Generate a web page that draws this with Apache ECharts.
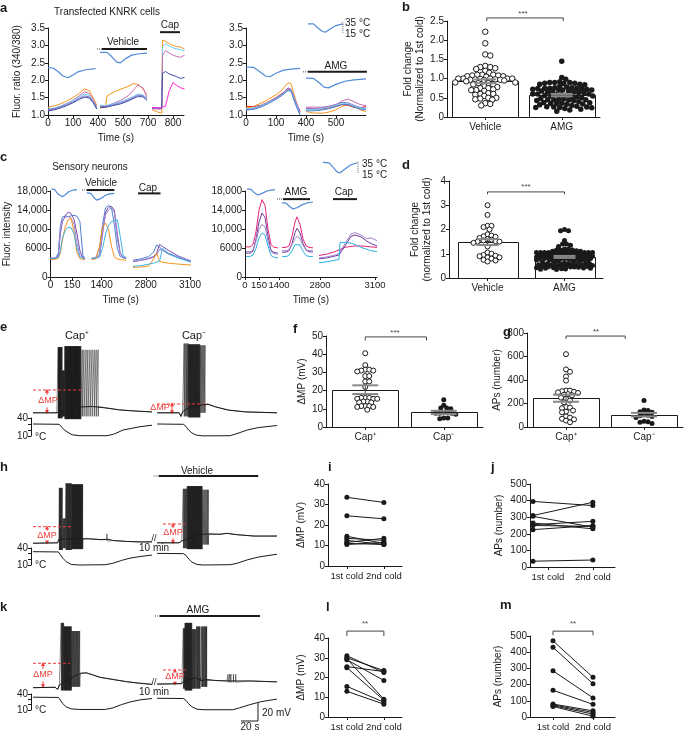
<!DOCTYPE html>
<html lang="en">
<head>
<meta charset="UTF-8">
<title>Cold responses figure</title>
<script src="https://cdn.jsdelivr.net/npm/echarts@6/dist/echarts.min.js"></script>
<style>
  html, body { margin: 0; padding: 0; background: #fff; }
  #chart { width: 685px; height: 732px; }
</style>
</head>
<body>
<div id="chart"></div>
<script>
// ---------- panel a : KNRK cells, fura-2 ratio ----------
var aLeftTickPos = [0, 100, 200, 300, 400, 500];
var aLeftTickLabels = ['0', '100', '400', '500', '700', '800'];
var aRightTickPos = [0, 100, 200, 300];
var aRightTickLabels = ['0', '100', '400', '500'];

var aL1x = [0, 25, 50, 75, 100, 125, 145, 165, 180, 195];
var aL1 = [
    [1.22, 1.26, 1.32, 1.40, 1.50, 1.62, 1.75, 1.70, 1.50, 1.28],
    [1.13, 1.17, 1.24, 1.33, 1.43, 1.55, 1.67, 1.62, 1.45, 1.24],
    [1.17, 1.20, 1.26, 1.33, 1.42, 1.52, 1.60, 1.56, 1.40, 1.22],
    [1.15, 1.18, 1.23, 1.30, 1.38, 1.48, 1.55, 1.52, 1.38, 1.20],
    [1.12, 1.15, 1.20, 1.27, 1.35, 1.45, 1.51, 1.49, 1.36, 1.17]
];
var aL2x = [208, 230, 236, 260, 290, 320, 340, 360, 380, 396];
var aL2 = [
    [1.20, 1.22, 1.55, 1.65, 1.74, 1.82, 1.90, 1.88, 1.75, 1.58],
    [1.26, 1.25, 1.27, 1.33, 1.42, 1.55, 1.70, 1.86, 1.78, 1.50],
    [1.28, 1.27, 1.28, 1.32, 1.38, 1.46, 1.53, 1.60, 1.57, 1.48],
    [1.25, 1.24, 1.25, 1.29, 1.35, 1.43, 1.50, 1.57, 1.55, 1.45],
    [1.22, 1.22, 1.23, 1.27, 1.32, 1.40, 1.47, 1.53, 1.52, 1.42]
];
var aL3x = [416, 440, 455, 458, 470, 485, 500, 515, 530, 546];
var aL3 = [
    [1.15, 1.08, 1.06, 3.15, 3.12, 3.05, 3.00, 2.97, 2.95, 2.90],
    [1.22, 1.20, 1.20, 2.95, 3.05, 2.98, 2.93, 2.90, 2.87, 2.85],
    [1.18, 1.17, 1.17, 2.70, 2.85, 2.78, 2.72, 2.68, 2.66, 2.72],
    [1.20, 1.20, 1.20, 2.20, 2.25, 2.18, 2.14, 2.10, 2.05, 2.08],
    [1.22, 1.20, 1.22, 1.23, 1.25, 1.70, 1.93, 1.85, 1.78, 1.75]
];
var aR1x = [0, 25, 50, 75, 100, 120, 140, 150, 165, 180];
var aR1 = [
    [1.20, 1.24, 1.34, 1.45, 1.58, 1.72, 1.93, 1.90, 1.45, 1.05],
    [1.25, 1.24, 1.28, 1.38, 1.50, 1.62, 1.75, 1.72, 1.35, 1.10],
    [1.15, 1.18, 1.26, 1.36, 1.48, 1.60, 1.78, 1.74, 1.40, 1.12],
    [1.17, 1.19, 1.27, 1.37, 1.49, 1.60, 1.76, 1.72, 1.38, 1.08],
    [1.18, 1.20, 1.27, 1.36, 1.47, 1.58, 1.72, 1.70, 1.35, 1.02],
    [1.14, 1.16, 1.23, 1.33, 1.45, 1.56, 1.70, 1.68, 1.30, 1.00]
];
var aR2x = [200, 225, 250, 275, 300, 320, 340, 360, 380, 400];
var aR2 = [
    [1.10, 1.06, 1.05, 1.08, 1.15, 1.25, 1.30, 1.25, 1.15, 1.10],
    [1.20, 1.18, 1.17, 1.20, 1.25, 1.30, 1.28, 1.22, 1.20, 1.25],
    [1.22, 1.23, 1.22, 1.25, 1.30, 1.40, 1.46, 1.38, 1.30, 1.27],
    [1.18, 1.18, 1.20, 1.24, 1.30, 1.36, 1.35, 1.28, 1.22, 1.20],
    [1.15, 1.16, 1.18, 1.22, 1.28, 1.34, 1.32, 1.26, 1.20, 1.18],
    [1.12, 1.12, 1.14, 1.18, 1.24, 1.30, 1.30, 1.23, 1.17, 1.15]
];
var tempAL1 = [[0, 2.36], [20, 2.35], [40, 2.25], [60, 2.12], [80, 2.07], [100, 2.15], [120, 2.24], [150, 2.3], [190, 2.33]];
var tempAL2 = [[208, 2.8], [235, 2.8], [255, 2.68], [275, 2.52], [290, 2.5], [310, 2.62], [335, 2.72], [365, 2.76], [396, 2.78]];
var tempAR1 = [[0, 2.38], [25, 2.37], [45, 2.25], [65, 2.12], [80, 2.1], [100, 2.2], [125, 2.29], [150, 2.32], [180, 2.34]];
var tempAR2 = [[200, 2.06], [225, 2.05], [245, 1.92], [260, 1.8], [275, 1.78], [300, 1.88], [330, 1.97], [360, 2.01], [400, 2.04]];
var tempLegA = [[207, 3.62], [225, 3.62], [240, 3.5], [255, 3.4], [265, 3.38], [280, 3.47], [300, 3.57], [323, 3.62]];
// drug bars: [start, end, level, dotted lead start]
var aVehBar = [216, 396, 2.9, 196];
var aCapBar = [448, 528, 3.38, 448];
var aAmgBar = [207, 403, 2.24, 190];

// ---------- panel c : sensory neurons ----------
var cLeftTickPos = [0, 22, 52, 97, 142];
var cRightTickPos = [0, 14, 34, 75, 130];
var cTickLabels = ['0', '150', '1400', '2800', '3100'];
var cYTicks = [0, 2000, 6000, 10000, 14000, 18000];

var cL1x = [0, 5, 8, 10, 12, 15, 18, 21, 24, 27, 30, 33, 35];
var cL1 = [
    [3800, 3900, 5000, 10500, 12500, 12800, 12600, 12800, 12900, 12700, 11500, 4500, 3900],
    [3800, 3900, 4500, 9000, 11500, 12800, 13600, 13300, 12000, 9000, 5500, 4000, 3900],
    [4000, 4000, 4800, 9500, 11800, 12500, 12700, 12300, 11000, 7000, 4500, 4000, 3900],
    [3700, 3700, 3900, 5000, 7500, 10500, 12000, 12300, 9500, 5000, 3800, 3700, 3600],
    [3900, 3900, 4100, 5500, 8000, 9800, 10400, 10300, 9000, 6000, 4200, 3900, 3800]
];
var cL2x = [42, 46, 50, 53, 56, 59, 62, 65, 68, 71, 74, 77];
var cL2 = [
    [3900, 4000, 6000, 11000, 14500, 15000, 14500, 11000, 6000, 4300, 4000, 3900],
    [3800, 3900, 4500, 9000, 13500, 14600, 14800, 14000, 9000, 5000, 4100, 4000],
    [4000, 4000, 4800, 9500, 13000, 14000, 14500, 13500, 8000, 4800, 4200, 4100],
    [3600, 3800, 6500, 10500, 11300, 10000, 6500, 4200, 3800, 3600, 3600, 3500],
    [3900, 3900, 4200, 6000, 9000, 10800, 11600, 11800, 12000, 8500, 4500, 4000]
];
var cL3x = [84, 92, 100, 105, 108, 111, 114, 120, 130, 143];
var cL3 = [
    [3500, 3800, 4300, 5200, 6700, 6300, 5600, 4800, 4000, 3300],
    [3200, 3500, 3900, 4300, 5000, 6800, 6400, 5600, 4400, 3300],
    [3300, 3500, 3800, 4100, 4600, 5800, 5600, 5000, 4200, 3400],
    [2000, 2100, 2300, 3800, 5000, 3300, 3100, 2900, 2700, 2500],
    [2200, 2400, 2700, 2900, 3100, 3300, 6000, 5000, 4000, 3100]
];
var cR1x = [1, 5, 8, 11, 14, 17, 20, 23, 26, 29, 33];
var cR1 = [
    [6300, 6300, 6800, 9500, 14000, 16200, 15000, 10000, 6800, 6200, 6100],
    [5000, 5000, 5400, 8000, 11500, 13400, 12500, 8500, 5600, 5100, 5000],
    [5300, 5300, 5600, 7500, 10000, 11000, 10500, 7500, 5300, 4900, 4800],
    [4300, 4300, 4600, 6000, 8200, 9200, 8800, 6500, 4500, 4100, 4000]
];
var cR2x = [37, 41, 44, 47, 50, 52, 55, 58, 61, 64, 68];
var cR2 = [
    [6200, 6200, 6500, 8500, 11500, 12600, 11000, 8000, 6500, 6200, 6100],
    [5200, 5200, 5500, 7000, 9300, 10200, 9200, 7000, 5600, 5300, 5200],
    [5500, 5500, 5700, 6800, 8000, 8500, 8000, 6600, 5700, 5500, 5500],
    [4300, 4300, 4500, 5500, 6800, 7200, 6700, 5400, 4500, 4300, 4300]
];
var cR3x = [74, 82, 90, 94, 95, 100, 106, 110, 116, 122, 126, 132];
var cR3 = [
    [4500, 4800, 5300, 5700, 5800, 6200, 6400, 6500, 6500, 6400, 6300, 6200],
    [3800, 4000, 4400, 4600, 4700, 6500, 8500, 8800, 8400, 7500, 7000, 6500],
    [4000, 4200, 4600, 4900, 5000, 7000, 9000, 9300, 8800, 8000, 8200, 7600],
    [3000, 3200, 3500, 3700, 7200, 7200, 7100, 6800, 6200, 5800, 5500, 5300]
];
var tempCL1 = [[1, 18400], [4, 18350], [8, 17300], [12, 16800], [15, 17200], [19, 17900], [23, 18200], [27, 18300]];
var tempCL2 = [[37, 17600], [41, 17500], [44, 16700], [47, 16100], [51, 16400], [56, 17100], [60, 17400], [65, 17500]];
var tempCR1 = [[2, 18400], [6, 18350], [9, 17700], [13, 17150], [17, 17500], [22, 18000], [26, 18200], [30, 18300]];
var tempCR2 = [[37, 15500], [41, 15450], [45, 14700], [48, 14250], [52, 14500], [57, 15100], [62, 15500], [68, 15700]];
var tempLegC = [[78, 24000], [84, 23900], [88, 23000], [92, 22000], [95, 21800], [100, 22600], [106, 23500], [112, 23900]];
var cVehBar = [37, 65, 18200, 32];
var cCapBarL = [89, 112, 17500, 89];
var cAmgBar = [38, 65, 16300, 32];
var cCapBarR = [88, 112, 16300, 88];

// ---------- panels b, d : fold change ----------
var bNames = ['Vehicle', 'AMG'];
var bMeans = [0.93, 0.57];
var bErrs = [0.05, 0.03];
var bVeh = [2.22, 1.92, 1.63, 1.60, 1.33, 1.30, 1.27, 1.30, 1.25, 1.2, 1.15, 1.1, 1.1, 1.08, 1.08, 1.1, 1.06, 1.06, 1.05,
    1.0, 1.0, 1.0, 1.0, 1.0, 0.99, 0.98, 0.98, 0.97, 0.97, 0.96, 0.95, 0.93, 0.9, 0.9, 0.88, 0.88, 0.85, 0.85, 0.8, 0.78,
    0.75, 0.75, 0.72, 0.7, 0.7, 0.68, 0.62, 0.6, 0.6, 0.58, 0.55, 0.5, 0.5, 0.48, 0.46, 0.45, 0.36, 0.34, 0.3];
var bAmg = [1.45, 1.03, 0.98, 0.92, 0.9, 0.9, 0.9, 0.88, 0.88, 0.87, 0.85, 0.85, 0.84, 0.8, 0.78, 0.76, 0.76, 0.75, 0.75,
    0.75, 0.74, 0.74, 0.72, 0.72, 0.7, 0.7, 0.7, 0.68, 0.68, 0.66, 0.65, 0.65, 0.64, 0.63, 0.6, 0.6, 0.6, 0.58, 0.58, 0.57,
    0.56, 0.55, 0.55, 0.53, 0.52, 0.5, 0.48, 0.47, 0.46, 0.45, 0.45, 0.45, 0.44, 0.43, 0.42, 0.4, 0.38, 0.37, 0.36, 0.35,
    0.35, 0.34, 0.33, 0.32, 0.3, 0.28, 0.27, 0.26, 0.26, 0.25, 0.25, 0.24, 0.22, 0.2, 0.18, 0.15];
var dMeans = [1.48, 0.87];
var dErrs = [0.12, 0.04];
var dVeh = [3.0, 2.6, 2.15, 2.15, 2.1, 2.0, 1.8, 1.75, 1.72, 1.7, 1.65, 1.6, 1.58, 1.55, 1.52, 1.5, 1.5, 1.45, 1.3,
    1.05, 1.0, 0.95, 0.92, 0.9, 0.85, 0.85, 0.8, 0.75, 0.72, 0.68];
var dAmg = [2.0, 1.95, 1.95, 1.55, 1.4, 1.4, 1.35, 1.3, 1.2, 1.2, 1.15, 1.15, 1.15, 1.12, 1.1, 1.1,
    1.05, 1.05, 1.05, 1.05, 1.05, 1.05, 1.05, 1.05, 1.03, 1.03, 1.0, 1.0, 1.0, 1.0, 1.0, 1.0, 0.98, 0.98, 0.98, 0.98,
    0.95, 0.95, 0.95, 0.95, 0.95, 0.93, 0.93, 0.93, 0.92, 0.92, 0.9, 0.9, 0.9, 0.9, 0.88, 0.88, 0.88, 0.87, 0.87, 0.86,
    0.85, 0.85, 0.84, 0.84, 0.83, 0.82, 0.81, 0.8, 0.8, 0.8, 0.78, 0.78, 0.77, 0.76, 0.75, 0.75, 0.74, 0.73, 0.72, 0.7,
    0.7, 0.68, 0.65, 0.62, 0.6, 0.6, 0.6, 0.58, 0.58, 0.57, 0.56, 0.55, 0.55, 0.55, 0.54, 0.53, 0.52, 0.5, 0.5, 0.5,
    0.48, 0.47, 0.46, 0.45, 0.45, 0.44, 0.42, 0.42, 0.41, 0.4, 0.4, 0.38, 0.37, 0.36, 0.35];

// ---------- panels f, g : Cap+ vs Cap- ----------
var capNames = ['Cap\u207A', 'Cap\u207B'];
var fMeans = [20.5, 8];
var fErrs = [2.4, 0.9];
var fPos = [40.5, 34, 31.5, 31.5, 31, 31, 30.5, 28, 28, 25, 25, 22, 16, 16, 16, 15.5, 15.5, 15.5, 14, 14, 13.5, 13.5,
    11.5, 11.5, 11.5, 11, 11, 9.5];
var fNeg = [15, 12, 10.5, 10.5, 10, 8, 8, 7.5, 7.5, 7.5, 7, 5, 5, 4.5];
var gMeans = [245, 105];
var gErrs = [30, 15];
var gPos = [620, 490, 470, 430, 395, 310, 310, 305, 300, 295, 290, 280, 275, 270, 250, 240, 225, 210, 170, 165, 160,
    140, 130, 125, 90, 80, 70, 65, 55, 40];
var gNeg = [225, 145, 140, 130, 125, 110, 100, 95, 90, 80, 50, 45, 40, 30];

// ---------- panels i, j, l, m : 1st vs 2nd cold ----------
var pairNames = ['1st cold', '2nd cold'];
var iPairs = [[33.5, 31], [24.5, 23], [14.5, 11], [13.5, 12.5], [12.5, 10.5], [11.5, 13.5], [11, 10.5], [10.5, 11.5]];
var jPairs = [[395, 370], [310, 390], [305, 240], [265, 230], [255, 275], [250, 245], [225, 250], [35, 42]];
var lPairs = [[31, 22.5], [30, 23.5], [29.5, 9], [29, 18.5], [25.5, 23], [25, 8.5], [15.5, 7.5], [13, 6.5]];
var mPairs = [[470, 245], [430, 205], [285, 118], [165, 78], [80, 38], [75, 28], [70, 18], [65, 5]];

// ---------- patch-clamp traces (time s, membrane mV) ----------
// bursts: [peak, trough, [spike times]]
var e1Base = [[0, -62], [28, -62], [29.5, -60], [45, -57], [57, -55.5], [70, -55], [85, -56.5], [102, -58.8], [120, -60], [140, -61]];
var e1Spikes = [
    [11, -68, [29.6, 30.1, 30.7, 31.2, 31.8, 32.3, 33.0, 33.6, 34.2]],
    [-15, -66, [34.9, 35.5, 36.1, 36.7]],
    [12, -69, [37.5, 38.0, 38.6, 39.1, 39.7, 40.2, 40.8, 41.3, 41.9, 42.4, 43.0, 43.5, 44.1, 44.6, 45.2, 45.7, 46.3,
        46.8, 47.4, 47.9, 48.5, 49.0, 49.6, 50.1, 50.7, 51.2, 51.8, 52.3, 52.9, 53.4, 54.0, 54.5, 55.1, 55.6, 56.2]],
    [8, -66, [57.9, 60.0, 62.4, 64.6, 67.1, 69.5, 72.0, 74.3, 76.6]]
];
var e2Base = [[146, -62], [172, -62], [174, -66], [176, -61], [180, -58], [190, -55], [200, -53], [206, -52.5], [215, -55.5],
    [230, -59], [250, -61], [287, -62]];
var e2Spikes = [
    [15, -66, [177.8, 178.9, 180.1, 181.3, 182.3]],
    [14, -67, [183.0, 183.6, 184.2, 184.8, 185.4, 186.0, 186.6, 187.2, 187.8, 188.4, 189.0, 189.6, 190.2, 190.8, 191.4,
        192.0, 192.6, 193.2, 193.8, 194.4, 195.0, 195.6, 196.2]],
    [13, -62, [197.3, 198.6, 199.9, 201.2, 202.4]]
];
var h1Base = [[0, -62.5], [29, -62], [30.5, -58], [59, -57.5], [65, -57.5], [80, -58.5], [88, -58], [95, -59.5], [110, -60.5],
    [125, -61], [140, -61]];
var h1Spikes = [
    [-1, -70, [31.0, 31.6, 32.3, 33.0, 33.7, 34.4]],
    [-35, -68, [35.4, 36.2, 37.0, 37.8]],
    [4, -70, [38.8, 39.5, 40.2, 40.9, 41.6, 42.3, 43.0, 43.7, 44.4, 45.1]],
    [3, -69, [45.8, 46.4, 47.0, 47.6, 48.2, 48.8, 49.4, 50.0, 50.6, 51.2, 51.8, 52.4, 53.0, 53.6, 54.2, 54.8, 55.4, 56.0,
        56.6, 57.2, 57.8, 58.4]],
    [-52, -60, [87]]
];
var h2Base = [[146, -62], [172, -62], [175, -60], [195, -53], [207, -52], [220, -52.5], [228, -51.5], [240, -53], [260, -54.5],
    [287, -54.5]];
var h2Spikes = [
    [-2, -68, [176.9, 177.8, 178.7, 179.6, 180.5]],
    [1, -69, [181.5, 182.1, 182.7, 183.3, 183.9, 184.5, 185.1, 185.7, 186.3, 186.9, 187.5, 188.1, 188.7, 189.3, 189.9,
        190.5, 191.1, 191.7, 192.3, 192.9, 193.5, 194.1, 194.7, 195.3, 195.9, 196.5, 197.1, 197.7, 198.3, 198.9]],
    [-3, -64, [200.0, 201.3, 202.6, 203.9, 205.2, 206.3]]
];
var k1Base = [[0, -63], [26, -62.5], [29, -65], [31, -60], [45, -52], [56, -47], [63, -46.5], [79, -51.5], [95, -54],
    [110, -56.3], [125, -58], [140, -59.3]];
var k1Spikes = [
    [9, -66, [33.2, 33.9, 34.6, 35.3, 36.0]],
    [5, -66, [36.6, 37.2, 37.8, 38.4, 39.0, 39.6, 40.2, 40.8, 41.4, 42.0, 42.6, 43.2, 43.8, 44.4, 45.0]],
    [0, -62, [45.9, 46.8, 47.7, 48.6, 49.5, 50.4, 51.3, 52.2, 53.1, 54.0, 54.9]]
];
var k2Base = [[146, -59], [175, -58.5], [177, -56], [192, -52], [197, -55], [206, -54], [215, -55], [228, -55.5],
    [240, -55.5], [255, -55.5], [270, -56], [287, -56.5]];
var k2Spikes = [
    [3, -64, [176.9, 177.6, 178.3]],
    [9, -66, [178.9, 179.5, 180.1, 180.7, 181.3, 181.9, 182.5, 183.1, 183.7, 184.3, 184.9, 185.5, 186.1, 186.7]],
    [2, -64, [187.4, 188.2, 189.0, 189.8, 190.6, 191.4]],
    [5, -64, [192.5, 193.3, 194.1, 194.9, 195.7, 196.5]],
    [5, -62, [198.4, 199.3, 200.2, 201.1, 202.0, 202.9, 203.8, 204.3]],
    [-48, -57, [229.5, 231.5, 233.0, 235.8, 238.5]]
];
// bath temperature (°C)
var eTempL = [[0, 30], [31, 29.5], [33, 26], [36, 21], [40, 17], [46, 12], [55, 10.5], [87, 10.5], [95, 13], [106, 20], [126, 25.5], [140, 28]];
var eTempR = [[146, 30], [177, 29.5], [180, 26], [183, 20], [187, 15], [192, 11.5], [200, 10.2], [232, 10.5], [240, 14], [252, 20], [265, 24], [287, 27.5]];
var hTempL = [[0, 33.5], [30, 33], [32, 30], [35, 22], [39, 16], [45, 11], [55, 10], [85, 10.5], [94, 13], [104, 18], [114, 22], [126, 25], [140, 27.5]];
var hTempR = [[146, 30.5], [177, 30], [180, 27], [183, 21], [187, 15], [193, 11], [200, 10], [232, 10.5], [240, 13], [252, 19], [265, 24], [287, 29]];
var kTempL = [[0, 34], [30, 33.5], [32, 30], [35, 22], [39, 16], [45, 12], [55, 11], [85, 11], [94, 14], [104, 20], [114, 25], [126, 29], [140, 31.5]];
var kTempR = [[146, 32], [177, 31.5], [180, 28], [183, 22], [187, 16], [193, 11.5], [200, 10.5], [235, 10.5], [243, 14], [255, 20], [268, 25.5], [287, 30.5]];
// ΔMP: dashed [from, to, level]; arrow [t, topTip, topTail, bottomTail, bottomTip]
var eMP = [[0, 57.6, -36.7, 16.5, -37.5, -42, -56, -61], [146, 206, -52.2, 163.5, -52.5, -57, -57, -61.5]];
var hMP = [[0, 46, -44.1, 16.5, -45, -48.5, -60, -61.8], [153, 179, -41.1, 164.7, -41.8, -45.6, -57, -61.5]];
var kMP = [[0, 43.5, -35.9, 11.8, -36.8, -42, -55.8, -61.3], [153, 181, -43.3, 167, -44, -45.5, -57, -58.5]];
var hVehBar = [148, 265, 12.2, 142];
var kAmgBar = [149, 267, 16.7, 143.5];
var scaleBarMV = 20, scaleBarS = 20;

// ---------------------------------------------------------------
var INK = '#1a1a1a', RED = '#ee3b3b', TEMP = '#4f8bd6', TRACE = 'rgba(10,10,10,0.6)';
var FONT = 'Liberation Sans, Arial, Helvetica, sans-serif';
var aCols12 = ['#f7941d', '#c86bb3', '#6ccbef', '#8d6fcf', '#3b4ea6'];
var aCols3 = ['#f7941d', '#6ccbef', '#c86bb3', '#3b4ea6', '#ff26d9'];
var aColsR = ['#f7941d', '#ee2a2a', '#c86bb3', '#8d6fcf', '#6ccbef', '#4d7fd3'];
var cColsL = ['#4f7fd1', '#7d4cad', '#9b87d6', '#f7941d', '#40b4e5'];
var cColsR = ['#e5257a', '#6b3a94', '#a286cf', '#2db2ea'];

var grids = [], xAxes = [], yAxes = [], series = [], texts = [];

function addGrid(box, xa, ya) {
    grids.push({ left: box[0], top: box[1], width: box[2], height: box[3] });
    var gi = grids.length - 1;
    xa.gridIndex = gi; ya.gridIndex = gi;
    xAxes.push(xa); yAxes.push(ya);
    return gi;
}
function axis(o) {
    var a = {
        type: 'value', min: o.min, max: o.max,
        axisLine: { show: true, onZero: false, lineStyle: { color: INK, width: 1 } },
        axisTick: { show: true, length: 3, lineStyle: { color: INK } },
        splitLine: { show: false },
        axisLabel: { color: INK, fontSize: o.fs || 10, fontFamily: FONT, margin: o.margin || 3, formatter: o.fmt,
            showMinLabel: true, showMaxLabel: true, hideOverlap: false },
        name: o.name || '', nameLocation: 'middle', nameGap: o.gap || 18, nameRotate: o.rot,
        nameTextStyle: { color: INK, fontSize: o.nfs || 10, fontFamily: FONT, lineHeight: 12 }
    };
    if (o.interval != null) a.interval = o.interval;
    if (o.ticks) { a.axisTick.customValues = o.ticks; a.axisLabel.customValues = o.ticks; }
    return a;
}
function hidden(min, max) { return { type: 'value', show: false, min: min, max: max, splitLine: { show: false } }; }
function line(gi, data, color, w, extra) {
    series.push(Object.assign({
        type: 'line', xAxisIndex: gi, yAxisIndex: gi, data: data, symbol: 'none', showSymbol: false,
        lineStyle: { color: color, width: w || 1 }, itemStyle: { color: color }, silent: true, clip: false, z: 3
    }, extra || {}));
}
function xy(xs, ys) { return xs.map(function (x, i) { return [x, ys[i]]; }); }
function segLines(gi, xs, rows, cols) { rows.forEach(function (r, k) { line(gi, xy(xs, r), cols[k], 1); }); }
function drugBar(gi, b) {
    if (b[3] < b[0]) line(gi, [[b[3], b[2]], [b[0], b[2]]], '#888', 1, { lineStyle: { color: '#888', width: 1.5, type: [1, 1] } });
    line(gi, [[b[0], b[2]], [b[1], b[2]]], INK, 2);
}
function txt(s, x, y, o) {
    texts.push({ type: 'text', x: x, y: y, silent: true, z: 100,
        style: Object.assign({ text: s, fill: INK, fontSize: 10, fontFamily: FONT, textAlign: 'center', textVerticalAlign: 'middle' }, o || {}) });
}
function baseAt(base, t) {
    var v = base[0][1];
    for (var i = 0; i < base.length; i++) if (base[i][0] <= t) v = base[i][1];
    return v;
}
function buildTrace(base, bursts) {
    var pts = base.slice();
    bursts.forEach(function (b) {
        b[2].forEach(function (t) {
            var v = baseAt(base, t);
            pts.push([t - 0.05, v], [t, b[0]], [t + 0.12, b[1]], [t + 0.25, v]);
        });
    });
    pts.sort(function (p, q) { return p[0] - q[0]; });
    return pts;
}
// simple beeswarm layout in pixel space, returns x offsets in px
function swarm(vals, pxY, gap, maxHalf) {
    var order = vals.map(function (v, i) { return i; }).sort(function (a, b) { return vals[b] - vals[a]; });
    var placed = [], offs = [];
    order.forEach(function (i) {
        var y = vals[i] * pxY, best = 0, bestC = -1;
        for (var k = 0; k <= 2 * maxHalf; k++) {
            var dx = (k % 2 ? 1 : -1) * Math.ceil(k / 2);
            var c = Infinity;
            placed.forEach(function (p) { var d = Math.hypot(p[0] - dx, p[1] - y); if (d < c) c = d; });
            if (c >= gap) { best = dx; bestC = c; break; }
            if (c > bestC) { bestC = c; best = dx; }
        }
        placed.push([best, y]); offs[i] = best;
    });
    return offs;
}
function bars(gi, means, w) {
    series.push({ type: 'custom', xAxisIndex: gi, yAxisIndex: gi, silent: true, z: 2,
        data: means.map(function (m, i) { return [i, m]; }),
        renderItem: function (params, api) {
            var p = api.coord([api.value(0), api.value(1)]), b = api.coord([api.value(0), 0]);
            return { type: 'rect', shape: { x: Math.round(p[0] - w / 2) + 0.5, y: Math.round(p[1]) + 0.5, width: w, height: Math.round(b[1] - p[1]) },
                style: { fill: '#fff', stroke: INK, lineWidth: 1 } };
        } });
}
function errs(gi, means, es, cap) {
    series.push({ type: 'custom', xAxisIndex: gi, yAxisIndex: gi, silent: true, z: 5,
        data: means.map(function (m, i) { return [i, m - es[i], m + es[i]]; }),
        renderItem: function (params, api) {
            var x = api.value(0), lo = api.coord([x, api.value(1)]), hi = api.coord([x, api.value(2)]);
            return { type: 'group', children: [
                { type: 'line', shape: { x1: lo[0], y1: lo[1], x2: hi[0], y2: hi[1] }, style: { stroke: '#444', lineWidth: 1 } },
                { type: 'line', shape: { x1: lo[0] - cap / 2, y1: lo[1], x2: lo[0] + cap / 2, y2: lo[1] }, style: { stroke: '#888', lineWidth: 2 } },
                { type: 'line', shape: { x1: hi[0] - cap / 2, y1: hi[1], x2: hi[0] + cap / 2, y2: hi[1] }, style: { stroke: '#888', lineWidth: 2 } }
            ] };
        } });
}
function dots(gi, xc, vals, pxX, pxY, filled, size, maxHalf) {
    var offs = swarm(vals, pxY, size * 0.8, maxHalf);
    series.push({ type: 'scatter', xAxisIndex: gi, yAxisIndex: gi, silent: true, z: 4, symbol: 'circle', symbolSize: size,
        data: vals.map(function (v, i) { return [xc + offs[i] / pxX, v]; }),
        itemStyle: { color: filled ? INK : '#fff', borderColor: INK, borderWidth: filled ? 0 : 1, opacity: 1 } });
}
function bracket(gi, x0, x1, lo, hi) { line(gi, [[x0, lo], [x0, hi], [x1, hi], [x1, lo]], '#444', 1); }
function pairs(gi, data) {
    data.forEach(function (p) {
        line(gi, [[0, p[0]], [1, p[1]]], INK, 1, { symbol: 'circle', symbolSize: 5, showSymbol: true });
    });
}
function mpMarks(gi, mp) {
    mp.forEach(function (m) {
        line(gi, [[m[0], m[2]], [m[1], m[2]]], RED, 1, { lineStyle: { color: RED, width: 1, type: [3, 2] } });
        line(gi, [{ value: [m[3], m[4]], symbol: 'triangle', symbolSize: [4, 4] }, { value: [m[3], m[5]], symbol: 'none' }], RED, 1, { showSymbol: true });
        line(gi, [{ value: [m[3], m[6]], symbol: 'none' }, { value: [m[3], m[7]], symbol: 'triangle', symbolSize: [4, 4], symbolRotate: 180 }], RED, 1, { showSymbol: true });
    });
}
function traceGrids(top, tTop, tH, l, r, lt, rt) {
    var gv = addGrid([33, top, 247, 81], hidden(0, 290.6), hidden(-70, 20));
    line(gv, buildTrace(l[0], l[1]), TRACE, 0.8, { clip: true });
    line(gv, buildTrace(r[0], r[1]), TRACE, 0.8, { clip: true });
    // resting membrane potential drawn on top in solid black
    line(gv, l[0], INK, 1, { z: 4 });
    line(gv, r[0], INK, 1, { z: 4 });
    var gt = addGrid([31, tTop, 249, tH], hidden(-2.35, 290.6),
        axis({ min: 10, max: 40, interval: 10, fmt: function (v) { return (v === 40 || v === 10) ? String(v) : ''; } }));
    line(gt, lt, INK, 1);
    line(gt, rt, INK, 1);
    return gv;
}
var fix1 = function (v) { return v.toFixed(1); };
var fix0 = function (v) { return v === 0 ? '0' : v.toFixed(1); };
var fmtK = function (v) { return v >= 10000 ? (v / 1000) + ',000' : String(v); };

// ---- a left
var g = addGrid([48, 28, 136, 87],
    axis({ min: 0, max: 544, ticks: aLeftTickPos, fmt: function (v) { return aLeftTickLabels[aLeftTickPos.indexOf(v)]; }, name: 'Time (s)', gap: 17 }),
    axis({ min: 1, max: 3.5, interval: 0.5, fmt: fix1, name: 'Fluor. ratio (340/380)', gap: 25 }));
segLines(g, aL1x, aL1, aCols12);
segLines(g, aL2x, aL2, aCols12);
segLines(g, aL3x, aL3, aCols3);
line(g, tempAL1, TEMP, 1.2); line(g, tempAL2, TEMP, 1.2);
drugBar(g, aVehBar); drugBar(g, aCapBar);
// ---- a right
g = addGrid([246, 28, 120, 87],
    axis({ min: 0, max: 400, ticks: aRightTickPos, fmt: function (v) { return aRightTickLabels[aRightTickPos.indexOf(v)]; }, name: 'Time (s)', gap: 17 }),
    axis({ min: 1, max: 3.5, interval: 0.5, fmt: fix1 }));
segLines(g, aR1x, aR1, aColsR);
segLines(g, aR2x, aR2, aColsR);
line(g, tempAR1, TEMP, 1.2); line(g, tempAR2, TEMP, 1.2);
line(g, tempLegA, TEMP, 1.2);
line(g, [[323, 3.67], [323, 3.36]], '#666', 1, { lineStyle: { color: '#666', width: 1, type: [1, 1] } });
drugBar(g, aAmgBar);

// ---- b
g = addGrid([447, 21, 153, 96],
    axis({ min: -0.5, max: 1.5, ticks: [0, 1], fmt: function (v) { return bNames[v]; }, margin: 5 }),
    axis({ min: 0, max: 2.5, interval: 0.5, fmt: fix0, name: 'Fold change\n(Normalized to 1st cold)', gap: 21 }));
bars(g, bMeans, 66);
dots(g, 0, bVeh, 76.5, 38.4, false, 5.5, 30);
dots(g, 1, bAmg, 76.5, 38.4, true, 5.5, 32);
errs(g, bMeans, bErrs, 22);
bracket(g, 0.02, 1.02, 2.5, 2.58);

// ---- c left
g = addGrid([48, 191, 143, 86],
    axis({ min: 0, max: 143, ticks: cLeftTickPos, fmt: function (v) { return cTickLabels[cLeftTickPos.indexOf(v)]; }, name: 'Time (s)', gap: 17 }),
    axis({ min: 0, max: 18000, ticks: cYTicks, fmt: fmtK, name: 'Fluor. intensity', gap: 37 }));
segLines(g, cL1x, cL1, cColsL);
segLines(g, cL2x, cL2, cColsL);
segLines(g, cL3x, cL3, cColsL);
line(g, tempCL1, TEMP, 1.2); line(g, tempCL2, TEMP, 1.2);
drugBar(g, cVehBar); drugBar(g, cCapBarL);
// ---- c right
g = addGrid([245, 191, 132, 86],
    axis({ min: 0, max: 132, ticks: cRightTickPos, fmt: function (v) { return cTickLabels[cRightTickPos.indexOf(v)]; }, name: 'Time (s)', gap: 17, fs: 9.5 }),
    axis({ min: 0, max: 18000, ticks: cYTicks, fmt: fmtK }));
segLines(g, cR1x, cR1, cColsR);
segLines(g, cR2x, cR2, cColsR);
segLines(g, cR3x, cR3, cColsR);
line(g, tempCR1, TEMP, 1.2); line(g, tempCR2, TEMP, 1.2);
line(g, tempLegC, TEMP, 1.2);
line(g, [[113, 24100], [113, 21800]], '#666', 1, { lineStyle: { color: '#666', width: 1, type: [1, 1] } });
drugBar(g, cAmgBar); drugBar(g, cCapBarR);

// ---- d
g = addGrid([449, 181, 154, 97],
    axis({ min: -0.5, max: 1.5, ticks: [0, 1], fmt: function (v) { return bNames[v]; }, margin: 5 }),
    axis({ min: 0, max: 4, interval: 1, name: 'Fold change\n(normalized to 1st cold)', gap: 16 }));
bars(g, dMeans, 60);
dots(g, 0, dVeh, 77, 24.25, false, 5, 26);
dots(g, 1, dAmg, 77, 24.25, true, 5, 28);
errs(g, dMeans, dErrs, 22);
bracket(g, 0, 1, 3.45, 3.55);

// ---- e
g = traceGrids(339, 418, 18, [e1Base, e1Spikes], [e2Base, e2Spikes], eTempL, eTempR);
mpMarks(g, eMP);

// ---- f
g = addGrid([326, 336, 157, 91],
    axis({ min: -0.5, max: 1.5, ticks: [0, 1], fmt: function (v) { return capNames[v]; }, margin: 5 }),
    axis({ min: 0, max: 50, interval: 10, name: '\u0394MP (mV)', gap: 18 }));
bars(g, fMeans, 66);
dots(g, 0, fPos, 78.5, 1.82, false, 5, 30);
dots(g, 1, fNeg, 78.5, 1.82, true, 5, 30);
errs(g, fMeans, fErrs, 26);
bracket(g, 0, 0.78, 47.5, 49.5);

// ---- g
g = addGrid([527, 333, 156, 94],
    axis({ min: -0.5, max: 1.5, ticks: [0, 1], fmt: function (v) { return capNames[v]; }, margin: 5 }),
    axis({ min: 0, max: 800, interval: 200, name: 'APs (number)', gap: 22 }));
bars(g, gMeans, 66);
dots(g, 0, gPos, 78, 0.1175, false, 5, 30);
dots(g, 1, gNeg, 78, 0.1175, true, 5, 30);
errs(g, gMeans, gErrs, 26);
bracket(g, 0, 0.76, 750, 774);

// ---- h
g = traceGrids(469, 548, 17, [h1Base, h1Spikes], [h2Base, h2Spikes], hTempL, hTempR);
mpMarks(g, hMP);
drugBar(g, hVehBar);

// ---- i, j
g = addGrid([328, 484, 74, 82],
    axis({ min: -0.51, max: 1.49, ticks: [0, 1], fmt: function (v) { return pairNames[v]; }, fs: 9.5, margin: 5 }),
    axis({ min: 0, max: 40, interval: 10, name: '\u0394MP (mV)', gap: 21 }));
pairs(g, iPairs);
g = addGrid([530, 484, 85, 83],
    axis({ min: -0.05, max: 1.37, ticks: [0.25, 1], fmt: function (v) { return v < 0.5 ? pairNames[0] : pairNames[1]; }, fs: 9.5, margin: 5 }),
    axis({ min: 0, max: 500, interval: 100, name: 'APs (number)', gap: 25 }));
pairs(g, jPairs);

// ---- k
g = traceGrids(613, 694, 16, [k1Base, k1Spikes], [k2Base, k2Spikes], kTempL, kTempR);
mpMarks(g, kMP);
drugBar(g, kAmgBar);
line(g, [[264.7, -80], [264.7, -80 - scaleBarMV], [264.7 - scaleBarS, -80 - scaleBarMV]], INK, 1);

// ---- l, m
g = addGrid([328, 638, 74, 80],
    axis({ min: -0.51, max: 1.49, ticks: [0, 1], fmt: function (v) { return pairNames[v]; }, fs: 9.5, margin: 5 }),
    axis({ min: 0, max: 40, interval: 10, name: '\u0394MP (mV)', gap: 21 }));
pairs(g, lPairs);
bracket(g, 0, 1, 41, 43.5);
g = addGrid([530, 636, 85, 82],
    axis({ min: -0.575, max: 1.55, ticks: [0, 1], fmt: function (v) { return pairNames[v]; }, fs: 9.5, margin: 5 }),
    axis({ min: 0, max: 500, interval: 100, name: 'APs (number)', gap: 26 }));
pairs(g, mPairs);
bracket(g, 0, 1, 505, 530);

// ---- text annotations
var bold = { fontSize: 13, fontWeight: 'bold', textAlign: 'left' };
[['a', 0, 8], ['b', 402, 7], ['c', 0, 157], ['d', 402, 165], ['e', 0, 327], ['f', 293, 329], ['g', 503, 332],
 ['h', 0, 467], ['i', 328, 467], ['j', 491, 467], ['k', 0, 607], ['l', 326, 607], ['m', 500, 605]]
    .forEach(function (t) { txt(t[0], t[1], t[2], bold); });
txt('Transfected KNRK cells', 107, 12);
txt('Sensory neurons', 90, 167);
[['Vehicle', 123, 42], ['Cap', 170, 25], ['AMG', 336, 66], ['Vehicle', 101, 183], ['Cap', 148, 188], ['AMG', 296, 192],
 ['Cap', 344, 192], ['Vehicle', 197, 471], ['AMG', 198, 610], ['10 min', 154, 548], ['10 min', 154, 692], ['20 s', 250, 727]]
    .forEach(function (t) { txt(t[0], t[1], t[2]); });
[['35 \u00B0C', 345, 23], ['15 \u00B0C', 345, 34], ['35 \u00B0C', 362, 164], ['15 \u00B0C', 362, 175], ['20 mV', 262, 713],
 ['\u00B0C', 35, 437], ['\u00B0C', 35, 565], ['\u00B0C', 35, 710]]
    .forEach(function (t) { txt(t[0], t[1], t[2], { textAlign: 'left' }); });
txt('Cap\u207A', 77, 336, { fontSize: 11 });
txt('Cap\u207B', 194, 336, { fontSize: 11 });
[['***', 523, 14], ['***', 526, 187], ['***', 395, 333], ['**', 596, 332], ['**', 365, 624], ['**', 573, 624]]
    .forEach(function (t) { txt(t[0], t[1], t[2], { fontSize: 8, fill: '#444' }); });
[['\u0394MP', 48, 401], ['\u0394MP', 160, 408], ['\u0394MP', 47, 536], ['\u0394MP', 173, 533], ['\u0394MP', 43, 675], ['\u0394MP', 175, 677]]
    .forEach(function (t) { txt(t[0], t[1], t[2], { fontSize: 9, fill: RED }); });
txt('//', 154, 539, { fontSize: 9 });
txt('//', 154, 683, { fontSize: 9 });

var chart = echarts.init(document.getElementById('chart'), null, { renderer: 'canvas' });
chart.setOption({
    animation: false,
    backgroundColor: '#fff',
    grid: grids,
    xAxis: xAxes,
    yAxis: yAxes,
    series: series,
    graphic: { elements: texts }
});
</script>
</body>
</html>
